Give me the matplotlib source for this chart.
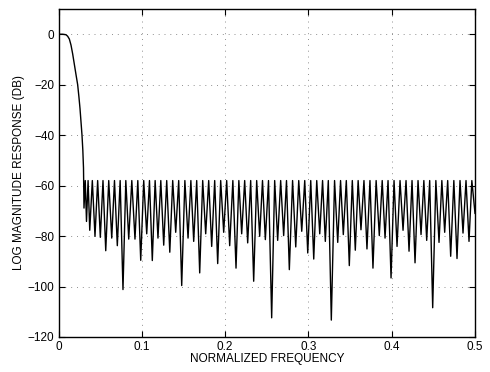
import matplotlib
matplotlib.use('Agg')
import matplotlib.pyplot as plt
import numpy as np

# passband + transition band
pass_freq = [0.0, 0.005, 0.009, 0.011, 0.013, 0.015, 0.017, 0.019, 0.021, 0.023,
             0.0245, 0.0258, 0.027, 0.0282, 0.0292, 0.0300]
pass_db = [0.0, 0.0, -0.2, -0.8, -1.9, -4.3, -7.8, -12.0, -16.0, -20.0,
           -24.8, -29.4, -34.5, -40.0, -46.0, -53.0]

# stopband nulls (frequency, depth in dB)
null_freq = [0.0306, 0.0336, 0.0375, 0.0438, 0.0502, 0.0567, 0.0639, 0.0706, 0.0774, 0.0843,
             0.0918, 0.0987, 0.1059, 0.1126, 0.1194, 0.1263, 0.1336, 0.1407, 0.1479, 0.1555,
             0.1623, 0.1695, 0.1767, 0.1839, 0.1911, 0.1983, 0.2055, 0.2131, 0.2199, 0.2271,
             0.2343, 0.2415, 0.2483, 0.2559, 0.2631, 0.2703, 0.2771, 0.2848, 0.2920, 0.2992,
             0.3064, 0.3136, 0.3203, 0.3275, 0.3352, 0.3419, 0.3491, 0.3563, 0.3631, 0.3703,
             0.3775, 0.3851, 0.3920, 0.3992, 0.4064, 0.4136, 0.4208, 0.4280, 0.4352, 0.4420,
             0.4492, 0.4568, 0.4636, 0.4708, 0.4784, 0.4856, 0.4928]
null_db = [-68.9, -74.2, -77.7, -80.1, -80.5, -85.8, -80.8, -83.8, -101.2, -81.2,
           -81.2, -89.6, -79.1, -89.7, -80.8, -83.6, -86.4, -78.5, -99.6, -80.8,
           -82.1, -94.6, -79.1, -84.1, -90.9, -78.5, -83.8, -92.7, -79.1, -82.7,
           -97.9, -80.1, -81.4, -112.4, -81.7, -79.8, -93.3, -84.3, -78.1, -86.7,
           -89.1, -79.1, -82.1, -113.3, -82.5, -79.4, -91.7, -85.6, -77.5, -85.1,
           -92.7, -79.8, -80.8, -96.6, -84.1, -77.7, -86.0, -90.6, -79.4, -81.7,
           -108.4, -82.5, -78.5, -88.0, -88.9, -78.8, -82.1]

# stopband ripple peaks
peak_freq = [0.0321, 0.0355, 0.0406, 0.0470, 0.0534, 0.0603, 0.0672, 0.0740, 0.0808, 0.0880,
             0.0952, 0.1023, 0.1092, 0.1160, 0.1228, 0.1299, 0.1371, 0.1443, 0.1517, 0.1589,
             0.1659, 0.1731, 0.1803, 0.1875, 0.1947, 0.2019, 0.2093, 0.2165, 0.2235, 0.2307,
             0.2379, 0.2449, 0.2521, 0.2595, 0.2667, 0.2737, 0.2810, 0.2884, 0.2956, 0.3028,
             0.3100, 0.3170, 0.3239, 0.3314, 0.3386, 0.3455, 0.3527, 0.3597, 0.3667, 0.3739,
             0.3813, 0.3886, 0.3956, 0.4028, 0.4100, 0.4172, 0.4244, 0.4316, 0.4386, 0.4456,
             0.4530, 0.4602, 0.4672, 0.4746, 0.4820, 0.4892, 0.4962]
peak_db = -58.0

end_freq = 0.5
end_db = -71.0

freq = list(pass_freq)
db = list(pass_db)
for nf, nd, pf in zip(null_freq, null_db, peak_freq):
    freq += [nf, pf]
    db += [nd, peak_db]
freq.append(end_freq)
db.append(end_db)

plt.rcParams['font.family'] = ['Liberation Sans', 'DejaVu Sans']

fig = plt.figure(figsize=(4.9, 3.72), dpi=100)
ax = fig.add_axes([0.1194, 0.0941, 0.85, 0.8817])

ax.plot(freq, db, color='black', linewidth=1.0, solid_joinstyle='round')

ax.set_xlim(0, 0.5)
ax.set_ylim(-120, 10)
ax.set_xticks(np.arange(0, 0.51, 0.1))
ax.set_xticklabels(['0', '0.1', '0.2', '0.3', '0.4', '0.5'])
ax.set_yticks(np.arange(-120, 1, 20))
ax.set_yticklabels(['\u2212120', '\u2212100', '\u221280', '\u221260', '\u221240', '\u221220', '0'])
ax.grid(True, linestyle=(0, (1, 5)), color='#909090', linewidth=0.7)
ax.tick_params(direction='in', top=True, right=True, labelsize=8.5, length=4, pad=3)
for s in ax.spines.values():
    s.set_linewidth(1.0)

ax.set_xlabel('NORMALIZED FREQUENCY', fontsize=8.5, labelpad=0)
ax.set_ylabel('LOG MAGNITUDE RESPONSE (DB)', fontsize=8.5, labelpad=2)

fig.savefig('out.png', dpi=100)
